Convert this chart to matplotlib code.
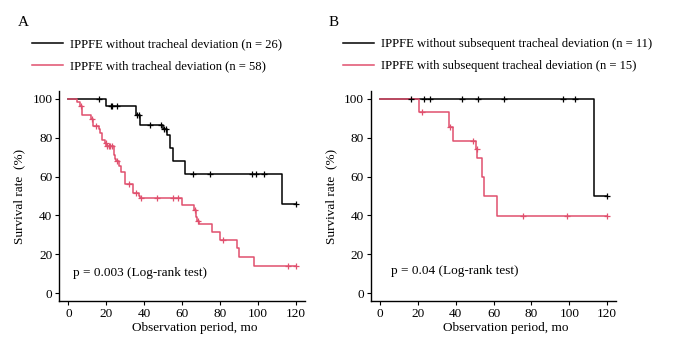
#! usr/bin/env python3
import numpy as np
import matplotlib
matplotlib.use("Agg")
import matplotlib.pyplot as plt

plt.rcParams['font.family'] = ['Liberation Serif', 'DejaVu Serif']

red = '#E0506E'

# ---- panel A: step times (mo) and survival after each step (%)
a_black_t = [20.0, 35.7, 37.9, 49.9, 52.0, 53.6, 55.2, 61.5, 112.8]
a_black_s = [96.4, 91.7, 86.6, 84.7, 81.4, 74.7, 68.0, 61.3, 45.9]
a_black_c = [16.3, 22.3, 23.0, 25.8, 36.4, 37.1, 43.1, 48.9, 50.5, 51.5,
             65.7, 74.6, 96.7, 98.8, 103.0, 119.8]

a_red_t = [4.4, 6.1, 7.0, 7.4, 11.9, 12.8, 13.2, 16.1, 16.8, 17.9, 19.3, 20.0,
           24.0, 24.7, 25.2, 26.8, 27.9, 30.0, 34.2, 37.0, 37.7, 59.9, 66.2,
           67.5, 67.8, 68.7, 75.7, 80.1, 88.8, 89.9, 97.8]
a_red_s = [98.4, 96.5, 93.6, 91.7, 89.8, 87.9, 86.0, 84.5, 82.4, 78.8, 77.3, 75.6,
           71.2, 69.2, 68.0, 65.2, 62.3, 56.1, 51.4, 50.0, 48.8, 45.4, 42.9,
           39.4, 37.2, 35.6, 31.3, 27.2, 23.1, 18.4, 13.8]
a_red_c = [6.6, 12.3, 14.6, 19.6, 20.3, 21.2, 22.1, 22.9, 25.8, 32.1, 35.8,
           38.3, 46.8, 55.4, 57.8, 66.6, 68.3, 81.5, 115.8, 120.0]

# ---- panel B
b_black_t = [112.8]
b_black_s = [49.9]
b_black_c = [16.3, 23.1, 26.3, 43.1, 52.0, 65.7, 96.7, 103.0, 119.8]

b_red_t = [20.7, 36.5, 38.4, 50.8, 51.5, 54.0, 55.2, 62.0]
b_red_s = [93.1, 85.7, 78.1, 74.0, 69.4, 59.6, 49.9, 39.6]
b_red_c = [22.1, 37.2, 49.4, 51.2, 75.3, 98.8, 120.0]

legend_a = ['IPPFE without tracheal deviation (n = 26)',
            'IPPFE with tracheal deviation (n = 58)']
legend_b = ['IPPFE without subsequent tracheal deviation (n = 11)',
            'IPPFE with subsequent tracheal deviation (n = 15)']


def km(ax, t, s, c, color, z):
    t = np.asarray(t)
    s = np.asarray(s)
    end = max(max(c), t[-1])
    x = np.r_[0, t, end]
    y = np.r_[100, s, s[-1]]
    line, = ax.step(x, y, where='post', color=color, lw=1.1, zorder=z)
    idx = np.searchsorted(t, c, side='right')
    cy = np.r_[100, s][idx]
    ax.plot(c, cy, ls='none', marker='+', ms=5, mew=0.9, color=color, zorder=z + 2)
    return line


def style(ax, ptext, px, py):
    ax.set_xlim(-4.8, 124.8)
    ax.set_ylim(-4, 104)
    ax.set_xticks(range(0, 121, 20))
    ax.set_yticks(range(0, 101, 20))
    for sp in ['top', 'right']:
        ax.spines[sp].set_visible(False)
    for sp in ['left', 'bottom']:
        ax.spines[sp].set_linewidth(1.0)
    ax.tick_params(direction='out', length=3, width=0.8, labelsize=9.5, pad=2)
    ax.set_xlabel('Observation period, mo', fontsize=9.5)
    ax.xaxis.label.set_va('center')
    ax.xaxis.set_label_coords(0.55, -0.129)
    ax.set_ylabel('Survival rate  (%)', fontsize=9.5)
    ax.yaxis.label.set_va('center')
    ax.yaxis.set_label_coords(-0.162, 0.5)
    ax.text(px, py, ptext, fontsize=9.5, ha='left', va='center')


fig = plt.figure(figsize=(6.74, 3.59), dpi=100)
axA = fig.add_axes([0.088, 0.1616, 0.3645, 0.585])
axB = fig.add_axes([0.55, 0.1616, 0.3645, 0.585])

l1 = km(axA, a_black_t, a_black_s, a_black_c, 'black', 2)
l2 = km(axA, a_red_t, a_red_s, a_red_c, red, 3)
style(axA, 'p = 0.003 (Log-rank test)', 2.6, 10.5)

m1 = km(axB, b_black_t, b_black_s, b_black_c, 'black', 2)
m2 = km(axB, b_red_t, b_red_s, b_red_c, red, 3)
style(axB, 'p = 0.04 (Log-rank test)', 6.1, 11.2)

for ax, hs, labs, lx in [(axA, [l1, l2], legend_a, 0.0475),
                         (axB, [m1, m2], legend_b, 0.5085)]:
    ax.legend(hs, labs, loc='upper left', bbox_to_anchor=(lx, 0.893),
              bbox_transform=fig.transFigure, frameon=False, borderpad=0,
              borderaxespad=0, handlelength=2.45, handletextpad=0.55,
              labelspacing=0.78, fontsize=9.1)

fig.text(23 / 674, 1 - 23 / 359, 'A', ha='center', va='center', fontsize=11)
fig.text(334 / 674, 1 - 23 / 359, 'B', ha='center', va='center', fontsize=11)

fig.savefig('out.png', dpi=100)
